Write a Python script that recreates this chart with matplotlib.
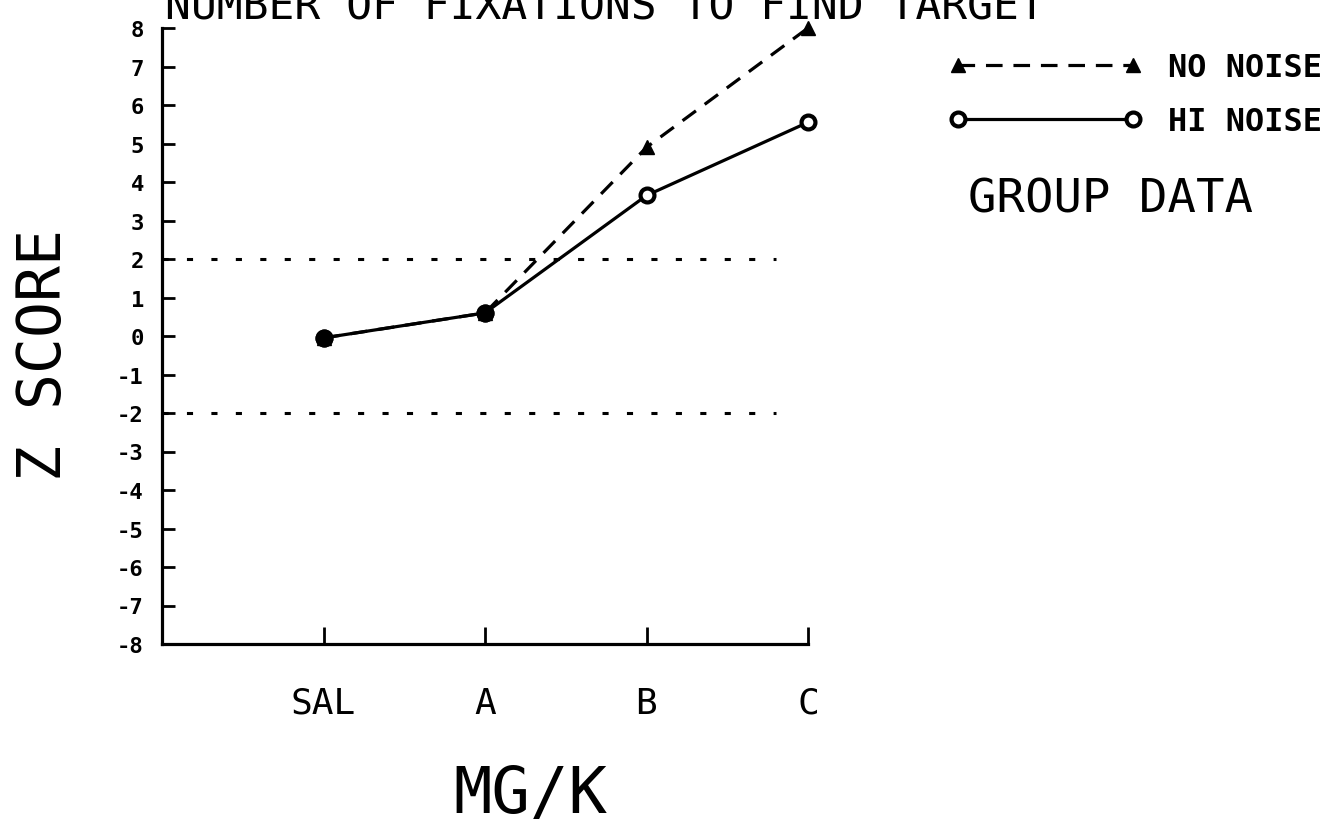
import matplotlib
matplotlib.use("Agg")
import matplotlib.pyplot as plt
from matplotlib import font_manager

categories = ["SAL", "A", "B", "C"]
no_noise = [-0.05, 0.6, 4.9, 8.0]
hi_noise = [-0.05, 0.6, 3.65, 5.55]
y_ticks = list(range(-8, 9))
y_tick_labels = [str(v) for v in y_ticks]
criterion_levels = [2, -2]

names = {f.name for f in font_manager.fontManager.ttflist}
narrow = "Liberation Sans Narrow" if "Liberation Sans Narrow" in names else "DejaVu Sans Mono"
mono = "DejaVu Sans Mono"

W, H = 1338, 829
fig = plt.figure(figsize=(W / 100, H / 100), dpi=100)
ax = fig.add_axes([162 / W, 1 - 645 / H, (808 - 162) / W, (645 - 29) / H])

x = list(range(1, len(categories) + 1))
ax.plot(x, no_noise, color="black", lw=2.3, ls=(0, (5.2, 3.4)), marker="^",
        ms=10, mfc="black", mec="black", clip_on=False, zorder=3, label="NO NOISE")
ax.plot(x, hi_noise, color="black", lw=2.3, ls="-", marker="o", ms=10,
        mfc="white", mec="black", mew=3, clip_on=False, zorder=4, label="HI NOISE")
# overlapping points appear filled
ax.plot(x[:2], hi_noise[:2], ls="none", marker="o", ms=12, mfc="black", mec="black",
        clip_on=False, zorder=5)

for lv in criterion_levels:
    ax.plot([0, 3.8], [lv, lv], color="black", lw=2.2, ls=(0, (2, 6)), zorder=2)

ax.set_xlim(0, 4)
ax.set_ylim(-8, 8)
ax.set_xticks(x)
ax.set_xticklabels(categories, fontfamily=narrow, fontsize=26)
ax.set_yticks(y_ticks)
ax.set_yticklabels(y_tick_labels, fontfamily=mono, fontweight="bold", fontsize=16)
ax.tick_params(axis="y", direction="in", length=9, width=2, pad=13)
ax.tick_params(axis="x", direction="in", length=12, width=2, pad=30)
for s in ["top", "right"]:
    ax.spines[s].set_visible(False)
for s in ["left", "bottom"]:
    ax.spines[s].set_linewidth(2.3)

fig.text(165 / W, 1 - 19 / H, "NUMBER OF FIXATIONS TO FIND TARGET", fontfamily=mono,
         fontsize=31, ha="left", va="baseline")
fig.text(45 / W, 1 - 355 / H, "Z SCORE", fontfamily=narrow, fontsize=43, rotation=90,
         ha="center", va="center")
fig.text(530 / W, 1 - 795 / H, "MG/K", fontfamily=narrow, fontsize=46,
         ha="center", va="center")
fig.text(1110 / W, 1 - 200 / H, "GROUP DATA", fontfamily=narrow, fontsize=34,
         ha="center", va="center")

leg = ax.legend(loc="upper left", bbox_to_anchor=(948 / W, 1 - 53 / H),
                bbox_transform=fig.transFigure, frameon=False, numpoints=2,
                prop={"family": mono, "weight": "bold", "size": 23},
                handlelength=6.1, handletextpad=0.8, labelspacing=0.72,
                borderaxespad=0, borderpad=0)

fig.savefig("out.png", dpi=100)
